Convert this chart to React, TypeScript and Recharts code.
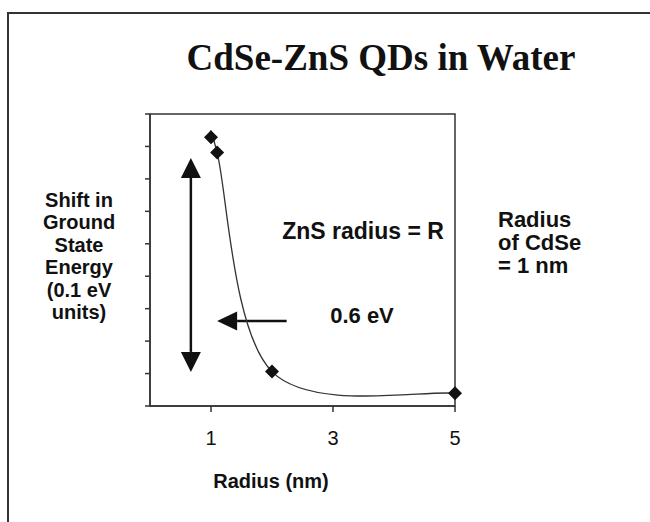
import React from 'react';
import { LineChart, Line, XAxis, YAxis, ReferenceLine, ReferenceArea } from 'recharts';

// ZnS shell radius (nm) vs shift in ground state energy (0.1 eV units)
const radius = [1, 1.1, 2, 5];
const shift = [8.28, 7.81, 1.06, 0.39];
const xTicks = [1, 3, 5];
const yTicks = [0, 1, 2, 3, 4, 5, 6, 7, 8, 9];

// annotation arrows, in data units
const vArrowX = 0.67;
const vArrowTop = 7.645;
const vArrowBottom = 1.05;
const hArrowY = 2.62;
const hArrowTail = 2.24;
const hArrowTip = 1.1;

const yLabelLines = ['Shift in', 'Ground', 'State', 'Energy', '(0.1 eV', 'units)'];
const sideLabelLines = ['Radius', 'of CdSe', '= 1 nm'];

const data = radius.map((r, i) => ({ r, shift: shift[i] }));

const INK = '#111';
const SANS = '"Liberation Sans", Arial, sans-serif';

// Excel-style smoothed line (Catmull-Rom converted to cubic beziers)
const excelCurve = (context: any) => {
  let pts: number[][] = [];
  return {
    areaStart() {},
    areaEnd() {},
    lineStart() {
      pts = [];
    },
    point(x: number, y: number) {
      pts.push([+x, +y]);
    },
    lineEnd() {
      if (!pts.length) return;
      context.moveTo(pts[0][0], pts[0][1]);
      for (let i = 0; i < pts.length - 1; i++) {
        const p0 = pts[Math.max(i - 1, 0)];
        const p1 = pts[i];
        const p2 = pts[i + 1];
        const p3 = pts[Math.min(i + 2, pts.length - 1)];
        context.bezierCurveTo(
          p1[0] + (p2[0] - p0[0]) / 6,
          p1[1] + (p2[1] - p0[1]) / 6,
          p2[0] - (p3[0] - p1[0]) / 6,
          p2[1] - (p3[1] - p1[1]) / 6,
          p2[0],
          p2[1]
        );
      }
    },
  };
};

const Diamond = (props: any) => {
  const { cx, cy, index } = props;
  if (cx == null || cy == null) return <g key={index} />;
  const s = 7;
  return (
    <polygon
      key={index}
      points={`${cx},${cy - s} ${cx + s},${cy} ${cx},${cy + s} ${cx - s},${cy}`}
      fill={INK}
    />
  );
};

const DoubleArrow = (p: any) => {
  const { x1, y1, x2, y2 } = p;
  const top = Math.min(y1, y2);
  const bot = Math.max(y1, y2);
  const h = 20;
  const w = 10;
  return (
    <g>
      <line x1={x1} y1={top + h} x2={x2} y2={bot - h} stroke={INK} strokeWidth={2.5} />
      <polygon points={`${x1},${top} ${x1 + w},${top + h} ${x1 - w},${top + h}`} fill={INK} />
      <polygon points={`${x2},${bot} ${x2 + w},${bot - h} ${x2 - w},${bot - h}`} fill={INK} />
    </g>
  );
};

// segment goes tail -> tip, head points left
const LeftArrow = (p: any) => {
  const { x1, y1, x2, y2 } = p;
  const h = 20;
  const w = 9.5;
  return (
    <g>
      <line x1={x1} y1={y1} x2={x2 + h} y2={y2} stroke={INK} strokeWidth={2.5} />
      <polygon points={`${x2},${y2} ${x2 + h},${y2 - w} ${x2 + h},${y2 + w}`} fill={INK} />
    </g>
  );
};

export default function App() {
  return (
    <div style={{ position: 'absolute', left: 0, top: 0, width: 650, height: 522, background: '#fff', overflow: 'hidden' }}>
      <div
        style={{
          position: 'absolute',
          left: 7,
          top: 12,
          width: 643,
          height: 510,
          borderTop: '2px solid #333',
          borderLeft: '2px solid #333',
          boxSizing: 'border-box',
        }}
      />
      <LineChart
        width={650}
        height={522}
        data={data}
        margin={{ top: 114, right: 195, bottom: 86, left: 110 }}
        style={{ position: 'absolute', left: 0, top: 0 }}
      >
        <ReferenceArea x1={0} x2={5} y1={0} y2={9} fill="none" fillOpacity={0} stroke="#333" strokeWidth={1.5} />
        <XAxis
          dataKey="r"
          type="number"
          domain={[0, 5]}
          ticks={xTicks}
          height={30}
          tickSize={6}
          tickMargin={19}
          stroke="#333"
          strokeWidth={1.5}
          tick={{ fill: INK, fontSize: 20, fontFamily: SANS }}
        />
        <YAxis
          type="number"
          domain={[0, 9]}
          ticks={yTicks}
          width={40}
          tickSize={5}
          tickFormatter={() => ''}
          stroke="#333"
          strokeWidth={1.5}
        />
        <ReferenceLine
          segment={[
            { x: vArrowX, y: vArrowTop },
            { x: vArrowX, y: vArrowBottom },
          ]}
          shape={DoubleArrow}
        />
        <ReferenceLine
          segment={[
            { x: hArrowTail, y: hArrowY },
            { x: hArrowTip, y: hArrowY },
          ]}
          shape={LeftArrow}
        />
        <Line
          dataKey="shift"
          type={excelCurve as any}
          stroke="#333"
          strokeWidth={1.3}
          dot={Diamond}
          activeDot={false}
          isAnimationActive={false}
        />
      </LineChart>
      <svg width={650} height={522} style={{ position: 'absolute', left: 0, top: 0, pointerEvents: 'none' }}>
        <text
          x={381}
          y={70}
          textAnchor="middle"
          fontFamily='"Liberation Serif", "Times New Roman", serif'
          fontWeight="bold"
          fontSize={37}
          fill={INK}
        >
          CdSe-ZnS QDs in Water
        </text>
        {yLabelLines.map((t, i) => (
          <text
            key={t}
            x={79}
            y={207 + i * 22.4}
            textAnchor="middle"
            fontFamily={SANS}
            fontWeight="bold"
            fontSize={20}
            fill={INK}
          >
            {t}
          </text>
        ))}
        {sideLabelLines.map((t, i) => (
          <text key={t} x={498} y={227 + i * 23.2} fontFamily={SANS} fontWeight="bold" fontSize={22} fill={INK}>
            {t}
          </text>
        ))}
        <text x={363} y={239} textAnchor="middle" fontFamily={SANS} fontWeight="bold" fontSize={23} fill={INK}>
          ZnS radius = R
        </text>
        <text x={362} y={323} textAnchor="middle" fontFamily={SANS} fontWeight="bold" fontSize={22} fill={INK}>
          0.6 eV
        </text>
        <text x={271} y={488} textAnchor="middle" fontFamily={SANS} fontWeight="bold" fontSize={20} fill={INK}>
          Radius (nm)
        </text>
      </svg>
    </div>
  );
}
